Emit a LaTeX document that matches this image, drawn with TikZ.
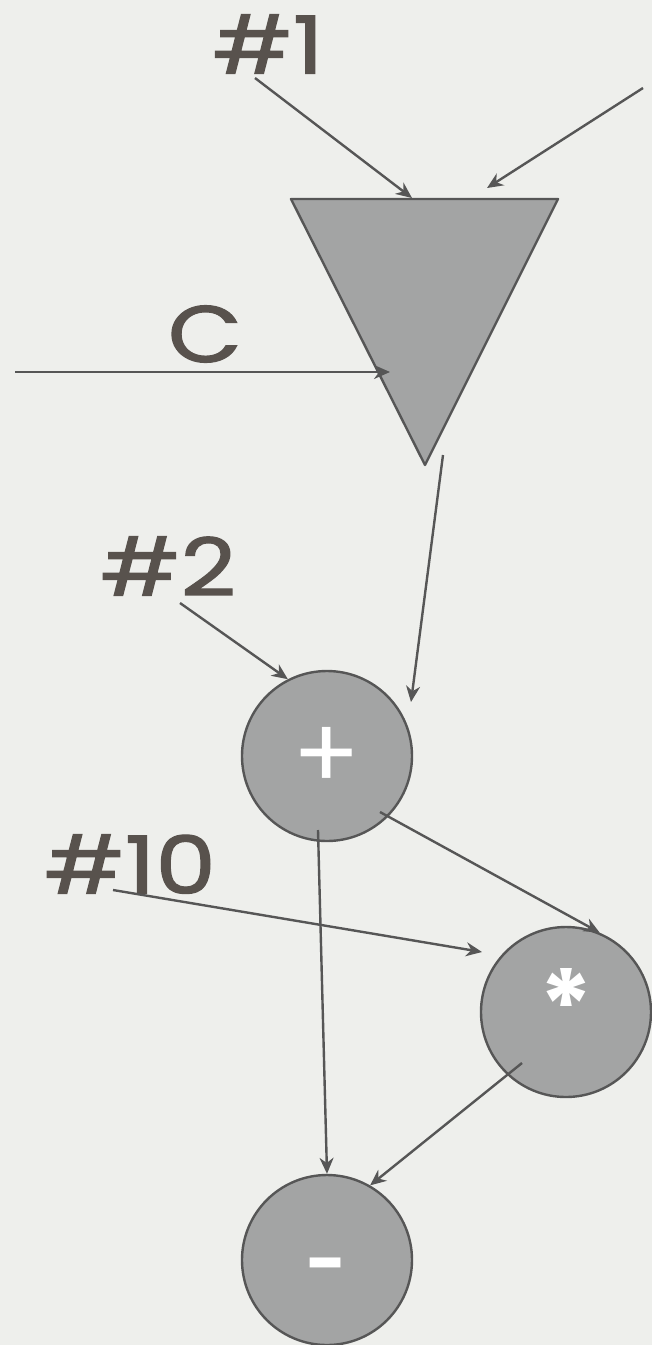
\documentclass[tikz,border=0pt]{standalone}
\usepackage{fontspec}
\setmainfont{Poppins}
\usetikzlibrary{arrows.meta}
\definecolor{ink}{HTML}{58524D}
\definecolor{edge}{HTML}{565656}
\definecolor{slate}{HTML}{A3A4A4}
\definecolor{paper}{HTML}{EEEFEC}
\tikzset{
  wire/.style={draw=edge, line width=2.4pt, -{Stealth[length=16pt,width=14pt]}},
  opnode/.style={circle, draw=edge, line width=2.4pt, fill=slate, minimum size=170pt, inner sep=0pt, text=white, text height=0pt, text depth=0pt},
  tag/.style={text=ink, font=\fontsize{80}{80}\selectfont\addfontfeature{FakeBold=1.5}, inner sep=0pt, xscale=1.2}
}

\begin{document}
\begin{tikzpicture}[x=1pt,y=-1pt]
\useasboundingbox (0,0) rectangle (652,1345);
\fill[paper] (0,0) rectangle (652,1345);
\coordinate (tl) at (291,199);
\coordinate (tr) at (558,199);
\coordinate (tb) at (425,465);
\filldraw[fill=slate, draw=edge, line width=2.4pt, line join=round] (tl) -- (tr) -- (tb) -- cycle;
\node[tag] (one) at (268,44) {\#1};
\node[tag] (cee) at (205,334) {C};
\node[tag] (two) at (168,566) {\#2};
\node[tag] (ten) at (130,864) {\#10};
\node[opnode, font=\fontsize{100}{100}\selectfont] (plus) at (327,756) {\raisebox{-33pt}{+}};
\node[opnode, font=\fontsize{100}{100}\selectfont\bfseries] (star) at (566,1012) {\raisebox{-30pt}{*}};
\node[opnode, font=\fontsize{70}{70}\selectfont\bfseries] (minus) at (327,1260) {\raisebox{-27pt}{-}};
\coordinate (oneout) at (255,78);
\coordinate (topin) at (412,198);
\coordinate (farout) at (643,88);
\coordinate (farin) at (487,188);
\coordinate (ceeout) at (15,372);
\coordinate (ceein) at (390,372);
\coordinate (tipout) at (443,455);
\coordinate (plusin) at (411,702);
\coordinate (twoout) at (180,603);
\coordinate (tenout) at (113,890);
\coordinate (starin) at (482,952);
\coordinate (plusout) at (380,812);
\coordinate (plusdown) at (318,830);
\coordinate (starout) at (522,1063);
\draw[wire] (oneout) -- (topin);
\draw[wire] (farout) -- (farin);
\draw[wire] (ceeout) -- (ceein);
\draw[wire] (tipout) -- (plusin);
\draw[wire] (twoout) -- (plus.117);
\draw[wire] (tenout) -- (starin);
\draw[wire] (plusout) -- (star.67);
\draw[wire] (plusdown) -- (minus.90);
\draw[wire] (starout) -- (minus.60);
\end{tikzpicture}
\end{document}
